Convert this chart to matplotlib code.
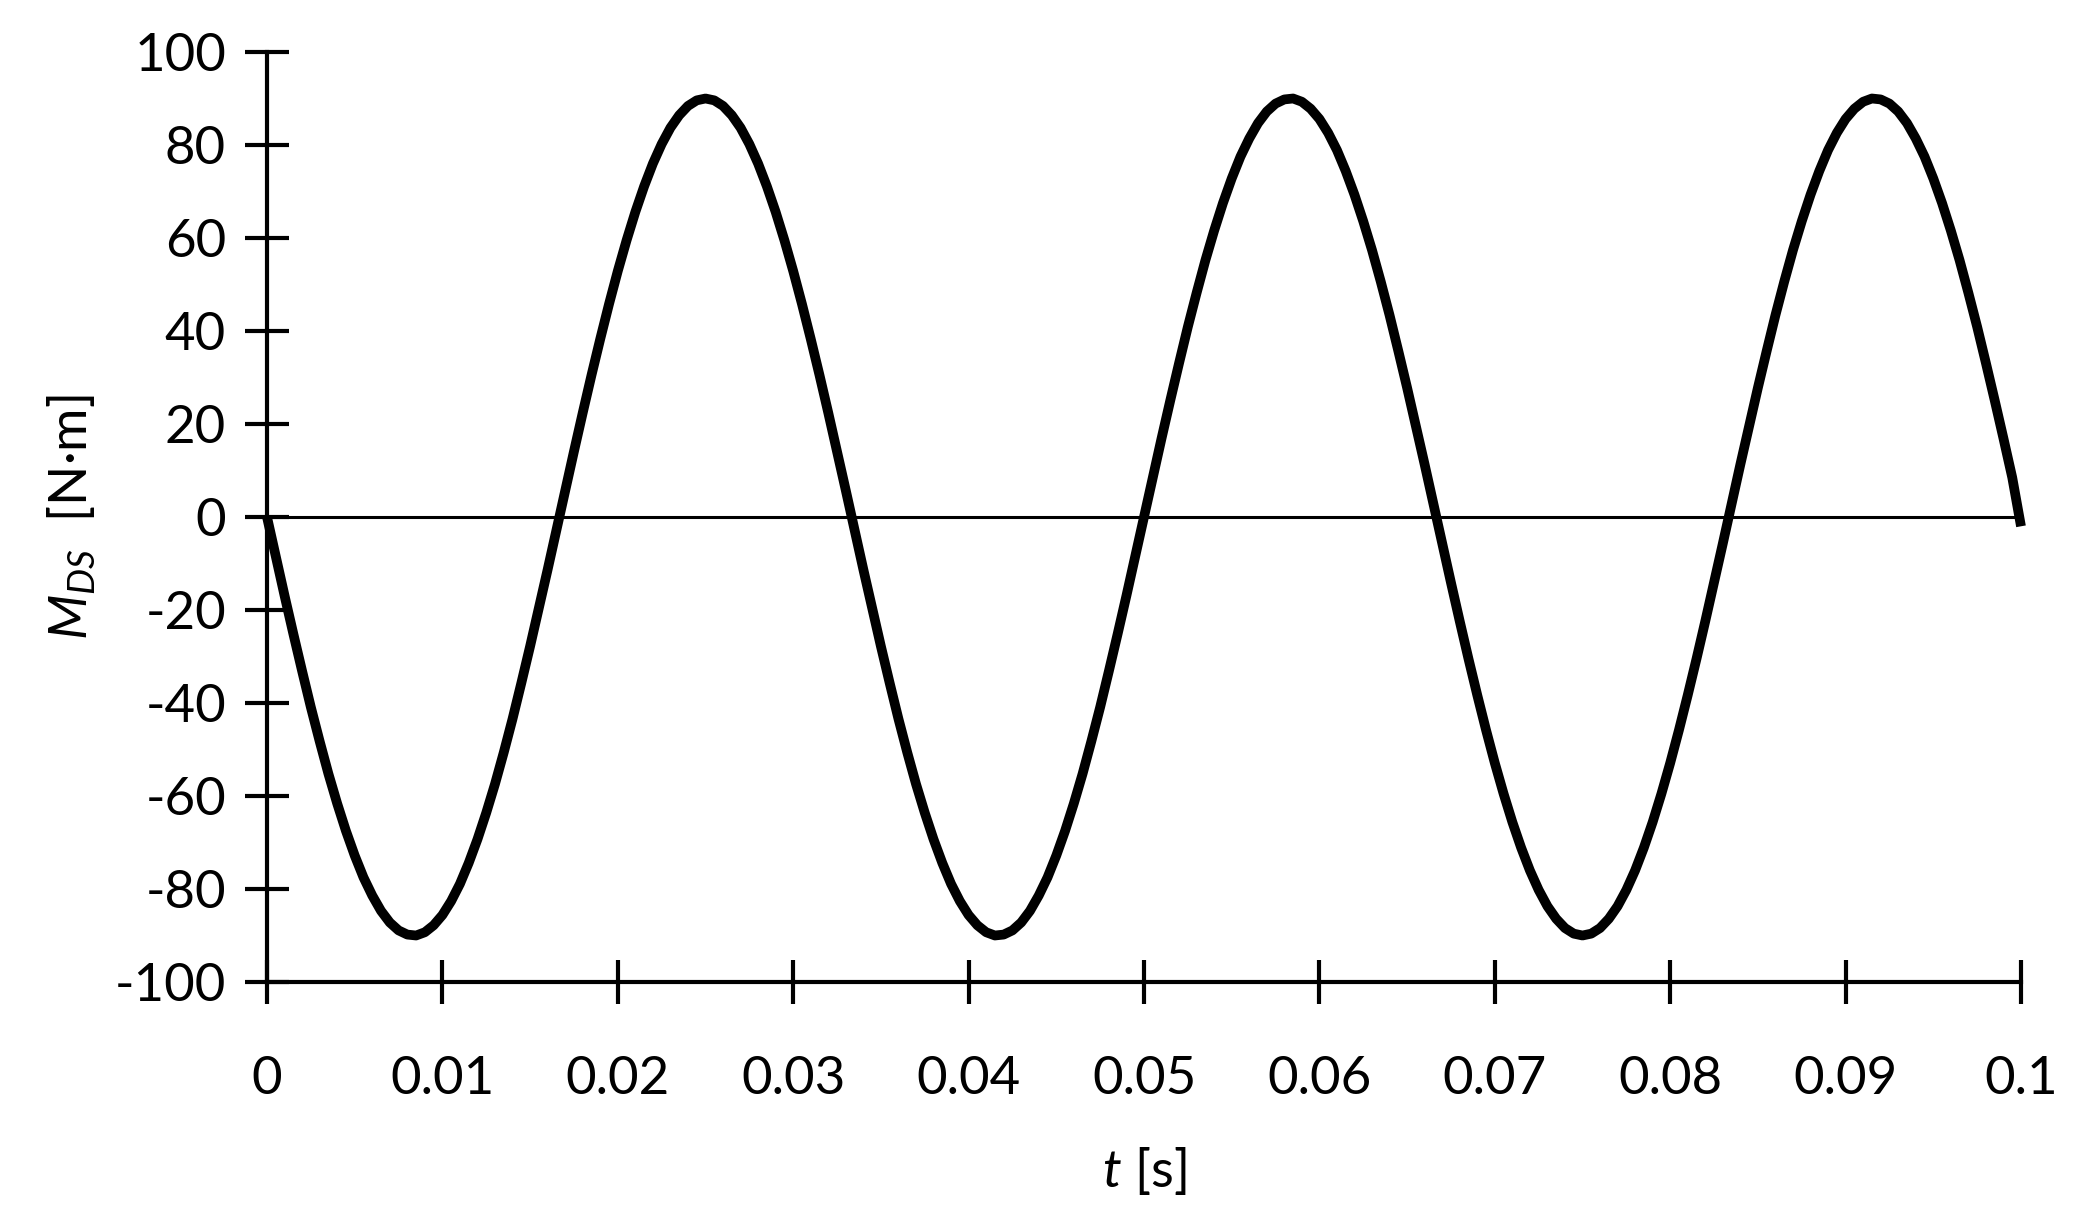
import matplotlib
matplotlib.use("Agg")
import matplotlib.pyplot as plt

# time axis [s], sampled every 0.5 ms
t = [k / 2000 for k in range(201)]

# torque M_DS [N·m], 0 .. 0.05 s
first_half = [0.0, -8.5, -16.9, -25.1, -33.1, -40.9, -48.2, -55.2, -61.6, -67.5,
              -72.8, -77.5, -81.4, -84.7, -87.2, -88.9, -89.8, -90.0, -89.3, -87.8,
              -85.6, -82.6, -78.9, -74.4, -69.3, -63.6, -57.4, -50.6, -43.4, -35.7,
              -27.8, -19.6, -11.3, -2.8, 5.7, 14.1, 22.4, 30.5, 38.3, 45.8,
              52.9, 59.5, 65.6, 71.1, 76.0, 80.2, 83.7, 86.4, 88.4, 89.6,
              90.0, 89.6, 88.4, 86.4, 83.7, 80.2, 76.0, 71.1, 65.6, 59.5,
              52.9, 45.8, 38.3, 30.5, 22.4, 14.1, 5.7, -2.8, -11.3, -19.6,
              -27.8, -35.7, -43.4, -50.6, -57.4, -63.6, -69.3, -74.4, -78.9, -82.6,
              -85.6, -87.8, -89.3, -90.0, -89.8, -88.9, -87.2, -84.7, -81.4, -77.5,
              -72.8, -67.5, -61.6, -55.2, -48.2, -40.9, -33.1, -25.1, -16.9, -8.5,
              0.0]
# 0.0505 .. 0.1 s
second_half = [8.5, 16.9, 25.1, 33.1, 40.9, 48.2, 55.2, 61.6, 67.5,
               72.8, 77.5, 81.4, 84.7, 87.2, 88.9, 89.8, 90.0, 89.3, 87.8,
               85.6, 82.6, 78.9, 74.4, 69.3, 63.6, 57.4, 50.6, 43.4, 35.7,
               27.8, 19.6, 11.3, 2.8, -5.7, -14.1, -22.4, -30.5, -38.3, -45.8,
               -52.9, -59.5, -65.6, -71.1, -76.0, -80.2, -83.7, -86.4, -88.4, -89.6,
               -90.0, -89.6, -88.4, -86.4, -83.7, -80.2, -76.0, -71.1, -65.6, -59.5,
               -52.9, -45.8, -38.3, -30.5, -22.4, -14.1, -5.7, 2.8, 11.3, 19.6,
               27.8, 35.7, 43.4, 50.6, 57.4, 63.6, 69.3, 74.4, 78.9, 82.6,
               85.6, 87.8, 89.3, 90.0, 89.8, 88.9, 87.2, 84.7, 81.4, 77.5,
               72.8, 67.5, 61.6, 55.2, 48.2, 40.9, 33.1, 25.1, 16.9, 8.5,
               -2.0]
m_ds = first_half + second_half

x_ticks = [0, 0.01, 0.02, 0.03, 0.04, 0.05, 0.06, 0.07, 0.08, 0.09, 0.1]
x_labels = ["0", "0.01", "0.02", "0.03", "0.04", "0.05", "0.06", "0.07", "0.08", "0.09", "0.1"]
y_ticks = list(range(-100, 101, 20))

plt.rcParams['font.family'] = ['Lato', 'DejaVu Sans']
plt.rcParams['mathtext.fontset'] = 'custom'
plt.rcParams['mathtext.it'] = 'Lato:italic'
plt.rcParams['mathtext.rm'] = 'Lato'
plt.rcParams['axes.unicode_minus'] = False

fig = plt.figure(figsize=(20.81, 12.24), dpi=100)
ax = fig.add_axes([267 / 2081, 1 - 982 / 1224, (2021 - 267) / 2081, (982 - 52) / 1224])

ax.axhline(0, color='black', lw=2.2, zorder=1)
ax.plot(t, m_ds, color='black', lw=7, solid_joinstyle='round',
        solid_capstyle='butt', zorder=3, clip_on=False)

ax.set_xlim(0, 0.1)
ax.set_ylim(-100, 100)
ax.set_xticks(x_ticks)
ax.set_xticklabels(x_labels)
ax.set_yticks(y_ticks)

for s in ['top', 'right']:
    ax.spines[s].set_visible(False)
for s in ['left', 'bottom']:
    ax.spines[s].set_linewidth(3)

ax.tick_params(axis='both', direction='inout', length=31, width=3, labelsize=38)
ax.tick_params(axis='y', pad=14)
ax.tick_params(axis='x', pad=38)

ax.set_xlabel('$t$ [s]', fontsize=38, labelpad=30)
ax.set_ylabel('$M_{DS}$  [N·m]', fontsize=38, labelpad=12)

fig.savefig('out.png', dpi=100)
